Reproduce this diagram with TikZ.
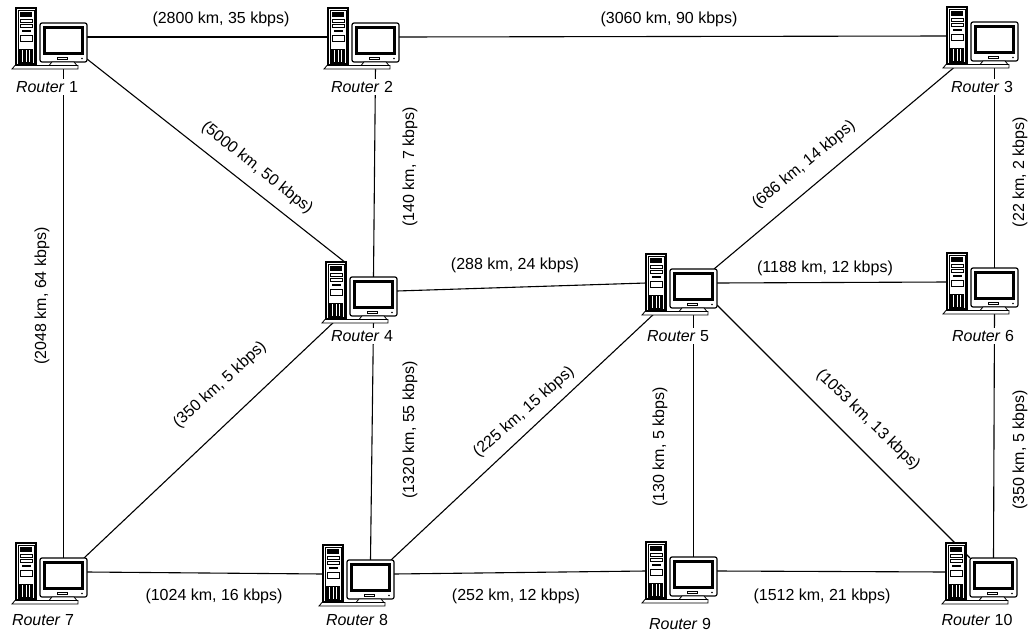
\documentclass[tikz,border=0pt]{standalone}
\usepackage{fontspec}
\setmainfont{Liberation Sans}
\usetikzlibrary{backgrounds}
\tikzset{
  link/.style={line width=1.1pt, black},
  rlabel/.style={fill=white, inner sep=2pt, font=\fontsize{16}{19}\selectfont},
  elabel/.style={inner sep=1pt, font=\fontsize{16}{19}\selectfont},
  router/.pic={
    % base plate
    \filldraw[fill=white, line width=0.8pt] (-4,61) -- (62,61) -- (62,57.5) -- (-1,57.5) -- cycle;
    % tower
    \filldraw[fill=white, line width=1.2pt] (0,0) rectangle (20,57);
    \draw[line width=0.5pt] (2,2) rectangle (18,55);
    \fill (4,4) rectangle (16,8.5);
    \draw[line width=0.6pt] (4,11) rectangle (16,14);
    \draw[line width=0.6pt] (4,16.5) rectangle (16,19.5);
    \fill (6,22) rectangle (15,24);
    \draw[line width=0.6pt] (4,27) rectangle (16,33);
    \fill (3,41) rectangle (17,55);
    \draw[white, line width=0.5pt] (6.5,42) -- (6.5,54) (10,42) -- (10,54) (13.5,42) -- (13.5,54);
    % monitor
    \filldraw[fill=white, line width=1.2pt, rounded corners=2pt] (24,15) rectangle (71,54);
    \draw[line width=2.2pt] (28.5,19.5) rectangle (66.5,45.5);
    \draw[line width=0.6pt] (41,49) rectangle (51,51.5);
    \fill (66,50.5) circle (0.8);
    % foot
    \filldraw[fill=white, line width=0.8pt] (36,54) -- (58,54) -- (61,57.5) -- (33,57.5) -- cycle;
    % anchor points
    \coordinate (-w) at (0,29);
    \coordinate (-e) at (71,29);
    \coordinate (-top) at (47.5,15);
    \coordinate (-bot) at (47.5,58);
    \coordinate (-mtl) at (24,15);
    \coordinate (-mtr) at (68,15);
    \coordinate (-mbr) at (71,51);
    \coordinate (-tb) at (10,58);
    \coordinate (-ttr) at (20,1);
  }
}
\begin{document}
\begin{tikzpicture}[x=1pt,y=-1pt]
\useasboundingbox (0,0) rectangle (1031,632);
% routers
\pic (r1) at (16,8) {router};
\pic (r2) at (328,8) {router};
\pic (r3) at (947,7) {router};
\pic (r4) at (326,262) {router};
\pic (r5) at (646,254) {router};
\pic (r6) at (947,253) {router};
\pic (r7) at (16,543) {router};
\pic (r8) at (323,545) {router};
\pic (r9) at (646,542) {router};
\pic (r10) at (946,543) {router};
% links
\begin{scope}[on background layer]
\draw[link] (r1-e) -- (r2-w);
\draw[link] (r2-e) -- (r3-w);
\draw[link] (r1-bot) -- (r7-top);
\draw[link] (r1-mbr) -- (r4-ttr);
\draw[link] (r2-bot) -- (r4-top);
\draw[link] (r3-bot) -- (r6-top);
\draw[link] (r3-tb) -- (r5-mtr);
\draw[link] (r4-e) -- (r5-w);
\draw[link] (r5-e) -- (r6-w);
\draw[link] (r4-tb) -- (r7-mtr);
\draw[link] (r4-bot) -- (r8-top);
\draw[link] (r5-tb) -- (r8-mtr);
\draw[link] (r5-bot) -- (r9-top);
\draw[link] (r5-mbr) -- (r10-mtl);
\draw[link] (r6-bot) -- (r10-top);
\draw[link] (r7-e) -- (r8-w);
\draw[link] (r8-e) -- (r9-w);
\draw[link] (r9-e) -- (r10-w);
\end{scope}
% router labels
\node[rlabel] (n1) at (47,87) {\textit{Router} 1};
\node[rlabel] (n2) at (362,87) {\textit{Router} 2};
\node[rlabel] (n3) at (982,87) {\textit{Router} 3};
\node[rlabel] (n4) at (362,336) {\textit{Router} 4};
\node[rlabel] (n5) at (678,336) {\textit{Router} 5};
\node[rlabel] (n6) at (983,336) {\textit{Router} 6};
\node[rlabel] (n7) at (43,620) {\textit{Router} 7};
\node[rlabel] (n8) at (357,620) {\textit{Router} 8};
\node[rlabel] (n9) at (680,624) {\textit{Router} 9};
\node[rlabel] (n10) at (977,620) {\textit{Router} 10};
% edge labels
\node[elabel] (e12) at (221,19) {(2800 km, 35 kbps)};
\node[elabel] (e23) at (669,19) {(3060 km, 90 kbps)};
\node[elabel, rotate=-38.5] (e14) at (257,168) {(5000 km, 50 kbps)};
\node[elabel, rotate=90] (e24) at (410,167) {(140 km, 7 kbps)};
\node[elabel, rotate=90] (e17) at (42,296) {(2048 km, 64 kbps)};
\node[elabel, rotate=90] (e36) at (1020,172) {(22 km, 2 kbps)};
\node[elabel] (e45) at (515,265) {(288 km, 24 kbps)};
\node[elabel, rotate=39.6] (e35) at (804,165) {(686 km, 14 kbps)};
\node[elabel] (e56) at (825,268) {(1188 km, 12 kbps)};
\node[elabel, rotate=42.4] (e47) at (220,385) {(350 km, 5 kbps)};
\node[elabel, rotate=90] (e48) at (410,430) {(1320 km, 55 kbps)};
\node[elabel, rotate=41.4] (e58) at (524,412) {(225 km, 15 kbps)};
\node[elabel, rotate=90] (e59) at (660,447) {(130 km, 5 kbps)};
\node[elabel, rotate=-44] (e510) at (868,420) {(1053 km, 13 kbps)};
\node[elabel, rotate=90] (e610) at (1020,450) {(350 km, 5 kbps)};
\node[elabel] (e78) at (214,596) {(1024 km, 16 kbps)};
\node[elabel] (e89) at (516,596) {(252 km, 12 kbps)};
\node[elabel] (e910) at (822,596) {(1512 km, 21 kbps)};
\end{tikzpicture}
\end{document}
